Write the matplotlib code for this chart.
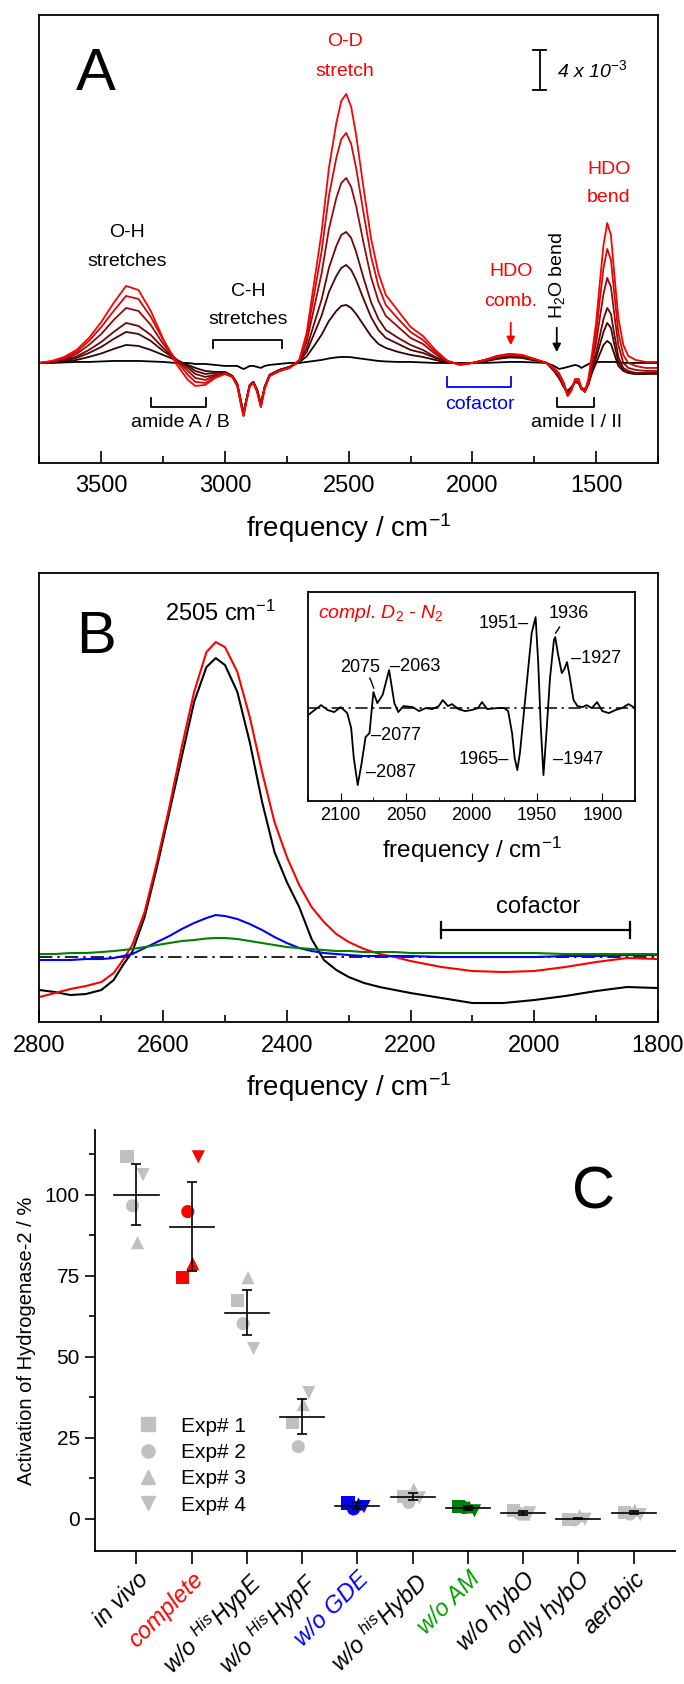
import matplotlib
matplotlib.use("Agg")
import matplotlib.pyplot as plt
from matplotlib.ticker import MultipleLocator
from matplotlib.lines import Line2D

plt.rcParams['font.family'] = ['Liberation Sans', 'DejaVu Sans']
plt.rcParams['mathtext.fontset'] = 'custom'
plt.rcParams['mathtext.rm'] = 'Liberation Sans'
plt.rcParams['mathtext.it'] = 'Liberation Sans:italic'
plt.rcParams['mathtext.bf'] = 'Liberation Sans:bold'
plt.rcParams['axes.linewidth'] = 1.3

# ---------------- panel A: spectra during D2 activation (units 1e-3) ----------------
freq_a = [3750, 3700, 3650, 3600, 3550, 3500, 3450, 3400, 3350, 3300, 3250, 3200,
          3150, 3120, 3080, 3040, 3000,
          2970, 2950, 2935, 2925, 2915, 2900, 2885, 2870, 2855, 2840, 2820, 2780, 2740,
          2700, 2670, 2640, 2610, 2580, 2550, 2530, 2510, 2490, 2470, 2440, 2410, 2380,
          2350, 2300, 2250, 2200, 2150, 2100,
          2050, 2000, 1950, 1900, 1850, 1800, 1750, 1700,
          1670, 1650, 1630, 1615, 1600, 1585, 1570, 1560, 1545, 1530,
          1515, 1500, 1485, 1470, 1455, 1440, 1425, 1410, 1390, 1370, 1340, 1300, 1250]

spec_a0 = [0.0, 0.0, 0.05, 0.1, 0.1, 0.15, 0.2, 0.2, 0.2, 0.15, 0.1, 0.0,
           0.0, -0.1, -0.1, -0.2, -0.3,
           -0.3, -0.3, -0.5, -0.6, -0.5, -0.3, -0.3, -0.4, -0.5, -0.3, -0.2, -0.1, 0.0,
           0.0, 0.1, 0.2, 0.3, 0.45, 0.55, 0.6, 0.6, 0.57, 0.5, 0.4, 0.3, 0.2,
           0.15, 0.1, 0.1, 0.05, 0.0, 0.0,
           0.0, 0.0, 0.0, 0.05, 0.1, 0.1, 0.05, 0.0,
           -0.3, -0.6, -0.5, -0.4, -0.3, -0.2, -0.3, -0.5, -0.3, -0.1,
           0.0, 0.05, 0.1, 0.1, 0.1, 0.1, 0.1, 0.05, 0.0, 0.0, 0.0, 0.0, 0.0]
spec_a1 = [0.0, 0.05, 0.14, 0.3, 0.6, 0.95, 1.4, 1.8, 1.7, 1.3, 0.8, 0.3,
           -0.2, -0.5, -0.8, -0.9, -0.9,
           -1.3, -2.1, -3.9, -5.0, -3.8, -2.2, -1.9, -2.7, -4.1, -2.4, -1.2, -0.7, -0.4,
           0.06, 0.65, 1.7, 2.8, 4.2, 5.2, 5.7, 5.8, 5.5, 4.9, 3.8, 2.7, 1.9,
           1.5, 1.1, 0.8, 0.6, 0.3, 0.0,
           0.0, 0.0, 0.15, 0.4, 0.55, 0.5, 0.25, 0.0,
           -0.8, -1.5, -2.4, -2.8, -2.4, -1.9, -2.0, -2.5, -2.6, -2.0,
           -0.9, 0.0, 0.9, 1.8, 2.2, 1.9, 0.8, -0.3, -0.8, -1.0, -1.1, -1.1, -1.0]
spec_a2 = [0.0, 0.08, 0.24, 0.5, 1.0, 1.6, 2.4, 3.1, 2.9, 2.2, 1.2, 0.4,
           -0.3, -0.8, -1.1, -1.0, -0.9,
           -1.3, -2.1, -3.9, -5.0, -3.8, -2.2, -1.9, -2.7, -4.1, -2.4, -1.2, -0.7, -0.4,
           0.1, 1.1, 2.9, 4.7, 7.1, 8.7, 9.5, 9.8, 9.3, 8.3, 6.4, 4.6, 3.3,
           2.5, 1.9, 1.3, 1.0, 0.5, 0.1,
           -0.1, 0.0, 0.2, 0.5, 0.7, 0.6, 0.3, 0.0,
           -0.8, -1.5, -2.4, -3.0, -2.5, -1.9, -2.0, -2.6, -2.7, -2.1,
           -0.6, 0.5, 1.8, 3.1, 4.0, 3.5, 1.7, 0.1, -0.7, -1.0, -1.1, -1.1, -1.1]
spec_a3 = [0.0, 0.1, 0.3, 0.65, 1.3, 2.1, 3.1, 4.0, 3.7, 2.8, 1.5, 0.4,
           -0.5, -1.1, -1.4, -1.2, -1.0,
           -1.3, -2.2, -4.0, -5.1, -3.9, -2.2, -1.9, -2.8, -4.2, -2.5, -1.2, -0.7, -0.4,
           0.15, 1.5, 3.9, 6.3, 9.5, 11.7, 12.8, 13.1, 12.5, 11.1, 8.5, 6.1, 4.4,
           3.3, 2.5, 1.8, 1.3, 0.6, 0.1,
           -0.1, 0.0, 0.25, 0.55, 0.75, 0.65, 0.35, 0.0,
           -0.7, -1.4, -2.4, -3.1, -2.6, -1.9, -2.0, -2.6, -2.8, -2.1,
           -0.3, 1.0, 2.7, 4.4, 5.5, 4.9, 2.7, 0.6, -0.5, -0.8, -1.0, -1.0, -1.0]
spec_a4 = [0.0, 0.14, 0.4, 0.9, 1.8, 2.9, 4.3, 5.5, 5.2, 3.8, 1.9, 0.4,
           -0.8, -1.5, -1.7, -1.3, -1.0,
           -1.4, -2.3, -4.1, -5.2, -3.9, -2.3, -2.0, -2.8, -4.3, -2.5, -1.3, -0.8, -0.5,
           0.2, 2.1, 5.5, 8.9, 13.4, 16.5, 18.0, 18.5, 17.6, 15.7, 12.0, 8.6, 6.2,
           4.7, 3.6, 2.5, 1.9, 0.9, 0.1,
           -0.1, 0.0, 0.3, 0.6, 0.8, 0.7, 0.4, 0.0,
           -0.7, -1.3, -2.3, -3.2, -2.6, -1.8, -1.9, -2.6, -2.9, -2.0,
           0.2, 2.0, 4.5, 6.9, 8.5, 7.6, 4.6, 1.8, 0.0, -0.5, -0.7, -0.8, -0.8]
spec_a5 = [0.0, 0.17, 0.5, 1.1, 2.2, 3.6, 5.2, 6.7, 6.4, 4.6, 2.3, 0.3,
           -1.2, -1.9, -2.0, -1.4, -1.1,
           -1.4, -2.3, -4.2, -5.3, -4.0, -2.3, -2.0, -2.9, -4.4, -2.6, -1.3, -0.8, -0.5,
           0.26, 2.6, 6.8, 11.1, 16.7, 20.5, 22.4, 23.0, 21.9, 19.5, 15.0, 10.7, 7.7,
           5.8, 4.4, 3.1, 2.3, 1.1, 0.2,
           -0.2, 0.0, 0.3, 0.7, 0.9, 0.8, 0.4, 0.0,
           -0.6, -1.2, -2.2, -3.3, -2.7, -1.7, -1.8, -2.5, -2.9, -1.8,
           0.6, 3.0, 6.3, 9.5, 11.4, 10.3, 6.6, 3.0, 0.8, 0.0, -0.3, -0.5, -0.5]
spec_a6 = [0.0, 0.2, 0.6, 1.3, 2.5, 4.1, 6.0, 7.7, 7.3, 5.2, 2.4, 0.0,
           -1.7, -2.3, -2.2, -1.5, -1.1,
           -1.4, -2.3, -4.2, -5.3, -4.0, -2.3, -2.0, -2.9, -4.4, -2.6, -1.3, -0.8, -0.5,
           0.3, 3.0, 8.0, 13.0, 19.5, 24.0, 26.2, 26.9, 25.6, 22.8, 17.5, 12.5, 9.0,
           6.8, 5.2, 3.6, 2.7, 1.3, 0.2,
           -0.2, 0.0, 0.3, 0.7, 0.9, 0.8, 0.4, 0.0,
           -0.5, -1.0, -2.0, -3.3, -2.8, -1.6, -1.6, -2.4, -2.9, -1.4,
           1.2, 4.0, 8.0, 11.8, 14.0, 12.8, 8.5, 4.5, 1.8, 0.7, 0.3, 0.1, 0.1]
spectra_a = [spec_a0, spec_a1, spec_a2, spec_a3, spec_a4, spec_a5, spec_a6]
colors_a = ['#000000', '#2e0404', '#4c0606', '#6e0808', '#960a0a', '#d00a0a', '#ff0000']

# ---------------- panel B: O-D stretch region ----------------
freq_b = [2800, 2775, 2750, 2725, 2700, 2680, 2665, 2650, 2630, 2610, 2590, 2570, 2550,
          2530, 2515, 2500, 2480, 2460, 2440, 2420, 2400, 2380, 2360, 2340, 2320, 2300,
          2275, 2250, 2225, 2200, 2150, 2100, 2050, 2000, 1950, 1900, 1850, 1800]
complete_b = [-4.0, -3.6, -3.2, -2.9, -2.5, -1.6, -0.3, 1.2, 4.5, 9.5, 15.0, 21.0, 26.5,
              30.5, 31.5, 31.0, 28.5, 24.0, 18.5, 13.5, 10.0, 7.2, 5.0, 3.5, 2.3, 1.5,
              0.8, 0.3, 0.0, -0.4, -1.0, -1.4, -1.5, -1.4, -1.0, -0.5, -0.1, -0.2]
invivo_b = [-3.3, -3.5, -3.8, -3.7, -3.3, -2.3, -0.8, 0.5, 4.0, 9.0, 14.5, 20.0, 25.5,
            29.0, 29.9, 29.2, 26.5, 21.5, 15.5, 10.5, 7.5, 5.0, 1.8, -0.3, -1.3, -2.0,
            -2.6, -3.0, -3.3, -3.6, -4.1, -4.6, -4.6, -4.3, -3.9, -3.4, -3.0, -3.1]
gde_b = [-0.3, -0.3, -0.3, -0.2, -0.2, -0.1, 0.1, 0.3, 0.9, 1.5, 2.1, 2.8, 3.4,
         3.9, 4.2, 4.1, 3.8, 3.3, 2.7, 2.0, 1.4, 0.9, 0.6, 0.4, 0.3, 0.2,
         0.1, 0.1, 0.1, 0.1, 0.0, 0.0, 0.0, 0.0, 0.1, 0.1, 0.2, 0.2]
am_b = [0.3, 0.3, 0.4, 0.4, 0.5, 0.6, 0.7, 0.8, 1.0, 1.2, 1.4, 1.6, 1.7,
        1.85, 1.9, 1.9, 1.8, 1.6, 1.4, 1.2, 1.0, 0.9, 0.8, 0.7, 0.6, 0.6,
        0.5, 0.5, 0.5, 0.4, 0.4, 0.4, 0.4, 0.4, 0.3, 0.3, 0.3, 0.3]

# inset: compl. D2 - N2 difference
freq_in = [2125, 2120, 2115, 2110, 2105, 2100, 2095, 2092, 2090, 2087, 2084, 2081, 2078,
           2075, 2072, 2068, 2063, 2059, 2056, 2052, 2045, 2040, 2035, 2030, 2025, 2022,
           2018, 2015, 2010, 2005, 2000, 1995, 1992, 1988, 1980, 1975, 1972, 1969, 1967,
           1965, 1963, 1960, 1957, 1954, 1951, 1949, 1947, 1945, 1943, 1940, 1937, 1936,
           1934, 1931, 1929, 1927, 1925, 1922, 1919, 1915, 1912, 1908, 1904, 1900, 1895,
           1890, 1885, 1880, 1875]
diff_in = [-0.7, -0.2, 0.3, -0.2, -0.4, 0.1, -0.5, -2.0, -5.0, -7.7, -5.5, -2.9, -2.5,
           1.6, 0.5, 1.3, 3.8, 0.5, -0.4, 0.2, 0.1, -0.3, 0.0, -0.1, 0.2, 0.8,
           0.2, 0.4, -0.1, -0.3, -0.2, 0.0, 0.6, -0.1, 0.0, 0.0, -0.3, -2.5, -5.0,
           -6.2, -4.5, -0.5, 3.5, 7.5, 9.1, 4.5, -2.0, -6.7, -3.0, 3.0, 6.8, 7.1,
           5.5, 3.5, 3.9, 4.6, 3.2, 0.8, 0.2, 0.1, 0.3, 0.0, 0.6, -0.3, -0.5,
           -0.2, 0.0, 0.4, 0.0]

# ---------------- panel C: activation of hydrogenase-2 ----------------
conditions = ['in vivo', 'complete', r'w/o $^{His}$HypE', r'w/o $^{His}$HypF', 'w/o GDE',
              r'w/o $^{his}$HybD', 'w/o AM', 'w/o hybO', 'only hybO', 'aerobic']
exp1 = [111.7, 74.4, 67.3, 29.6, 4.8, 6.8, 3.8, 2.4, -0.3, 2.0]
exp2 = [96.6, 94.8, 60.2, 22.2, 3.0, 5.0, 3.4, 1.6, -0.4, 1.4]
exp3 = [85.2, 78.7, 74.4, 35.2, 4.5, 9.0, 3.6, 1.4, 0.9, 2.6]
exp4 = [106.2, 111.7, 52.5, 38.9, 3.7, 6.4, 2.4, 1.8, -0.2, 1.2]
means = [100.0, 90.1, 63.6, 31.5, 4.0, 6.8, 3.3, 1.8, 0.0, 1.8]
errs = [9.4, 13.8, 7.0, 5.5, 1.0, 1.2, 0.5, 0.6, 0.2, 0.4]

grey = '#c0c0c0'
point_colors = [grey, '#ff0000', grey, grey, '#0000ff', grey, '#008000', grey, grey, grey]
label_colors = ['black', '#ff0000', 'black', 'black', '#0000ff', 'black', '#00a000',
                'black', 'black', 'black']


def bracket(ax, x0, x1, y, h, color):
    ax.plot([x0, x0, x1, x1], [y + h, y, y, y + h], color=color, lw=1.3)


fig = plt.figure(figsize=(6.84, 16.84), dpi=100)

# ===== A =====
axA = fig.add_axes([0.0577, 0.7251, 0.9042, 0.2660])
for vals, col in zip(spectra_a, colors_a):
    axA.plot(freq_a, vals, color=col, lw=1.3)
axA.set_xlim(3750, 1250)
axA.set_ylim(-10, 34.8)
axA.xaxis.set_major_locator(MultipleLocator(500))
axA.xaxis.set_minor_locator(MultipleLocator(250))
axA.tick_params(axis='x', which='both', direction='in', labelsize=17, pad=9)
axA.tick_params(axis='x', which='major', length=9, width=1.2)
axA.tick_params(axis='x', which='minor', length=5, width=1.2)
axA.set_yticks([])
axA.set_xlabel('frequency / cm$^{-1}$', fontsize=20, labelpad=10)

axA.text(3522, 28.8, 'A', fontsize=43, ha='center', va='center')
axA.text(2516, 32.1, 'O-D', color='red', fontsize=14, ha='center', va='center')
axA.text(2516, 29.1, 'stretch', color='red', fontsize=14, ha='center', va='center')
axA.text(3396, 13.0, 'O-H', fontsize=14, ha='center', va='center')
axA.text(3396, 10.1, 'stretches', fontsize=14, ha='center', va='center')
axA.text(2907, 7.1, 'C-H', fontsize=14, ha='center', va='center')
axA.text(2907, 4.3, 'stretches', fontsize=14, ha='center', va='center')
axA.text(1845, 9.1, 'HDO', color='red', fontsize=14, ha='center', va='center')
axA.text(1845, 6.1, 'comb.', color='red', fontsize=14, ha='center', va='center')
axA.text(1449, 19.3, 'HDO', color='red', fontsize=14, ha='center', va='center')
axA.text(1449, 16.5, 'bend', color='red', fontsize=14, ha='center', va='center')
axA.text(1659, 8.8, 'H$_2$O bend', fontsize=14, ha='center', va='center', rotation=90)
axA.text(1970, -4.2, 'cofactor', color='blue', fontsize=14, ha='center', va='center')
axA.text(3182, -6.0, 'amide A / B', fontsize=14, ha='center', va='center')
axA.text(1578, -6.0, 'amide I / II', fontsize=14, ha='center', va='center')
axA.annotate('', xy=(1845, 1.5), xytext=(1845, 4.3),
             arrowprops=dict(arrowstyle='-|>', color='red', lw=1.3, mutation_scale=12))
axA.annotate('', xy=(1659, 0.8), xytext=(1659, 3.8),
             arrowprops=dict(arrowstyle='-|>', color='black', lw=1.3, mutation_scale=12))
bracket(axA, 3049, 2770, 2.3, -0.8, 'black')
bracket(axA, 2104, 1845, -2.4, 1.0, 'blue')
bracket(axA, 3299, 3077, -4.4, 0.9, 'black')
bracket(axA, 1659, 1509, -4.4, 0.9, 'black')
# scale bar 4e-3
axA.plot([1728, 1728], [27.3, 31.3], color='black', lw=1.3)
axA.plot([1754, 1702], [27.3, 27.3], color='black', lw=1.3)
axA.plot([1754, 1702], [31.3, 31.3], color='black', lw=1.3)
axA.text(1659, 29.3, r'4 x 10$^{\mathit{-3}}$', fontsize=14, style='italic',
         ha='left', va='center')

# ===== B =====
axB = fig.add_axes([0.0577, 0.3931, 0.9042, 0.2666])
axB.axhline(0, color='black', lw=1.2, dashes=(8, 3, 1.5, 3))
axB.plot(freq_b, invivo_b, color='black', lw=1.5)
axB.plot(freq_b, complete_b, color='red', lw=1.5)
axB.plot(freq_b, gde_b, color='blue', lw=1.5)
axB.plot(freq_b, am_b, color='green', lw=1.5)
axB.set_xlim(2800, 1800)
axB.set_ylim(-6.5, 38.4)
axB.xaxis.set_major_locator(MultipleLocator(200))
axB.xaxis.set_minor_locator(MultipleLocator(100))
axB.tick_params(axis='x', which='both', direction='in', labelsize=17, pad=9)
axB.tick_params(axis='x', which='major', length=9, width=1.2)
axB.tick_params(axis='x', which='minor', length=5, width=1.2)
axB.set_yticks([])
axB.set_xlabel('frequency / cm$^{-1}$', fontsize=20, labelpad=10)
axB.text(2709, 32.0, 'B', fontsize=43, ha='center', va='center')
axB.text(2507, 34.4, '2505 cm$^{-1}$', fontsize=17, ha='center', va='center')
axB.plot([2150, 1845], [2.7, 2.7], color='black', lw=1.6)
axB.plot([2150, 2150], [1.9, 3.5], color='black', lw=1.6)
axB.plot([1845, 1845], [1.9, 3.5], color='black', lw=1.6)
axB.text(1993, 5.0, 'cofactor', fontsize=17, ha='center', va='center')

# inset
axI = fig.add_axes([0.4503, 0.5243, 0.4781, 0.1241])
axI.axhline(0, color='black', lw=1.1, dashes=(8, 3, 1.5, 3))
axI.plot(freq_in, diff_in, color='black', lw=1.3)
axI.set_xlim(2125, 1875)
axI.set_ylim(-9.3, 11.6)
axI.xaxis.set_major_locator(MultipleLocator(50))
axI.xaxis.set_minor_locator(MultipleLocator(25))
axI.tick_params(axis='x', which='both', direction='in', labelsize=13, pad=4)
axI.tick_params(axis='x', which='major', length=6)
axI.tick_params(axis='x', which='minor', length=3)
axI.set_yticks([])
axI.set_xlabel('frequency / cm$^{-1}$', fontsize=17.5, labelpad=8)
axI.text(2117, 9.5, r'compl. D$_\mathit{2}$ - N$_\mathit{2}$', color='red', style='italic',
         fontsize=14, ha='left', va='center')
fs_in = 13
axI.text(1956.4, 8.5, '1951\u2013', fontsize=fs_in, ha='right', va='center')
axI.text(1926, 9.5, '1936', fontsize=fs_in, ha='center', va='center')
axI.plot([1935.7, 1932.7], [7.5, 8.1], color='black', lw=1.0)
axI.text(1924.2, 5.0, '\u20131927', fontsize=fs_in, ha='left', va='center')
axI.text(2084.8, 4.1, '2075', fontsize=fs_in, ha='center', va='center')
axI.plot([2077.7, 2074.7], [3.0, 2.0], color='black', lw=1.0)
axI.text(2062, 4.2, '\u20132063', fontsize=fs_in, ha='left', va='center')
axI.text(2077, -2.7, '\u20132077', fontsize=fs_in, ha='left', va='center')
axI.text(2080.5, -6.4, '\u20132087', fontsize=fs_in, ha='left', va='center')
axI.text(1971.7, -5.1, '1965\u2013', fontsize=fs_in, ha='right', va='center')
axI.text(1938, -5.1, '\u20131947', fontsize=fs_in, ha='left', va='center')

# ===== C =====
axC = fig.add_axes([0.1389, 0.0790, 0.848, 0.25])
axC.spines['top'].set_visible(False)
axC.spines['right'].set_visible(False)
xs = list(range(len(conditions)))
offsets = [-0.17, -0.07, 0.02, 0.12]
for vals, mk, off in zip([exp1, exp2, exp3, exp4], ['s', 'o', '^', 'v'], offsets):
    axC.scatter([x + off for x in xs], vals, marker=mk, s=90, c=point_colors,
                edgecolors='none', zorder=2)
for x, m, e in zip(xs, means, errs):
    axC.plot([x - 0.4, x + 0.4], [m, m], color='black', lw=1.2, zorder=3)
    axC.errorbar(x, m, yerr=e, fmt='none', ecolor='black', elinewidth=1.2,
                 capsize=3.5, capthick=1.2, zorder=3)
axC.set_xlim(-0.75, 9.75)
axC.set_ylim(-10, 120)
axC.set_yticks([0, 25, 50, 75, 100])
axC.yaxis.set_minor_locator(MultipleLocator(12.5))
axC.set_xticks(xs)
axC.set_xticklabels(conditions, rotation=45, ha='right', va='top',
                    rotation_mode='anchor', fontsize=17, style='italic')
for lbl, col in zip(axC.get_xticklabels(), label_colors):
    lbl.set_color(col)
axC.tick_params(axis='y', which='major', direction='out', length=7, width=1.2,
                labelsize=15, pad=4)
axC.tick_params(axis='y', which='minor', direction='out', length=4, width=1.2)
axC.tick_params(axis='x', direction='out', length=9, width=1.2, pad=3)
axC.set_ylabel('Activation of Hydrogenase-2 / %', fontsize=14.5, labelpad=6)
axC.text(8.28, 100.6, 'C', fontsize=43, ha='center', va='center')

handles = [Line2D([], [], marker=m, color=grey, ls='none', ms=9.5)
           for m in ['s', 'o', '^', 'v']]
axC.legend(handles, ['Exp# 1', 'Exp# 2', 'Exp# 3', 'Exp# 4'], loc='upper left',
           bbox_to_anchor=(0.073, 0.319), frameon=False, fontsize=15,
           handlelength=1.0, handletextpad=1.1, labelspacing=0.35,
           borderaxespad=0, borderpad=0)

fig.savefig('out.png', dpi=100)
